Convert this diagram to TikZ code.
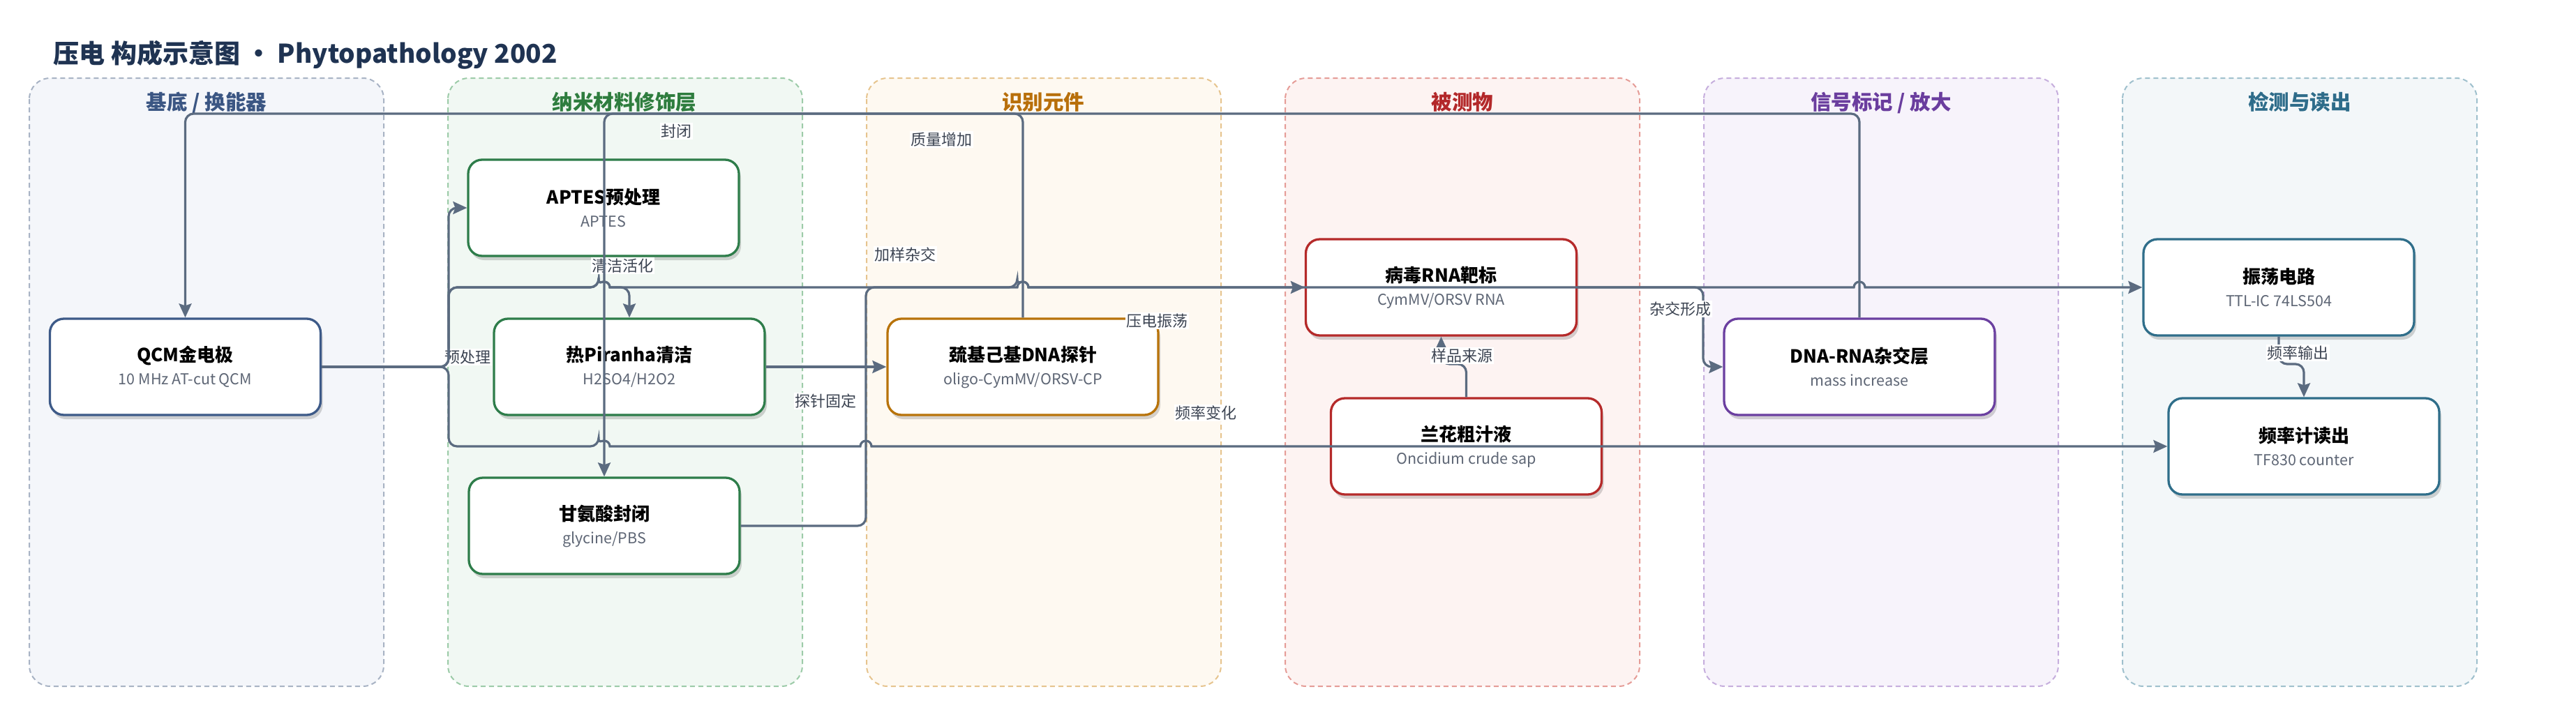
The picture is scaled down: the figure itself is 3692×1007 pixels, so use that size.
\documentclass[tikz,border=0pt]{standalone}
\usepackage{fontspec}
\setmainfont{Noto Sans CJK SC}
\usetikzlibrary{arrows.meta,shadows}

\definecolor{edgec}{HTML}{5B6B80}
\definecolor{titlec}{HTML}{1F3352}
\definecolor{subc}{HTML}{5E6675}
\definecolor{labc}{HTML}{3C4452}
\definecolor{laneAfill}{HTML}{F4F6FA}\definecolor{laneAline}{HTML}{A8B3C4}\definecolor{laneAtext}{HTML}{3B5683}
\definecolor{laneBfill}{HTML}{F1F8F3}\definecolor{laneBline}{HTML}{9CCBA8}\definecolor{laneBtext}{HTML}{2E7D3E}
\definecolor{laneCfill}{HTML}{FEF9F1}\definecolor{laneCline}{HTML}{E6C48E}\definecolor{laneCtext}{HTML}{B86F0A}
\definecolor{laneDfill}{HTML}{FDF3F2}\definecolor{laneDline}{HTML}{E59C97}\definecolor{laneDtext}{HTML}{B3282A}
\definecolor{laneEfill}{HTML}{F7F3FB}\definecolor{laneEline}{HTML}{C6AEDD}\definecolor{laneEtext}{HTML}{6A3D9E}
\definecolor{laneFfill}{HTML}{F3F7F9}\definecolor{laneFline}{HTML}{9FC0CD}\definecolor{laneFtext}{HTML}{2E6C8A}
\definecolor{qcmc}{HTML}{3D5A88}
\definecolor{nanoc}{HTML}{2E7D4A}
\definecolor{probec}{HTML}{B8730A}
\definecolor{targetc}{HTML}{B52A2A}
\definecolor{hybc}{HTML}{6B3FA0}
\definecolor{readc}{HTML}{2F6E8A}

\tikzset{
  lane/.style={draw=#1, line width=2pt, dash pattern=on 7pt off 5pt, rounded corners=30pt},
  lanetitle/.style={text=#1, font=\bfseries\fontsize{29.5}{29.5}\selectfont, anchor=base},
  box/.style={draw=#1, line width=3.3pt, fill=white, rounded corners=20pt,
    minimum width=388pt, minimum height=138pt, align=center,
    font=\fontsize{21.5}{33}\selectfont,
    drop shadow={shadow xshift=3pt, shadow yshift=-6pt, opacity=.16, fill=black}},
  edge/.style={draw=edgec, line width=3.2pt, rounded corners=12pt},
  elabel/.style={fill=white, text=labc, font=\fontsize{22}{22}\selectfont, inner sep=1.5pt},
  >={Stealth[length=20pt,width=18pt,inset=3pt]}
}
\newcommand{\boxtext}[2]{{\bfseries\fontsize{26}{33}\selectfont #1}\\{\color{subc}#2}}

\begin{document}
\begin{tikzpicture}[x=1pt,y=-1pt]
    \useasboundingbox (0,0) rectangle (3692,1007);
    \node [anchor=base west, text=titlec, font=\bfseries\fontsize{37}{37}\selectfont] (title) at (73,90) {压电 构成示意图 · Phytopathology 2002};

    % lanes
    \draw [lane=laneAline, fill=laneAfill] (42,112) rectangle (550,984);
    \draw [lane=laneBline, fill=laneBfill] (642,112) rectangle (1150,984);
    \draw [lane=laneCline, fill=laneCfill] (1242,112) rectangle (1750,984);
    \draw [lane=laneDline, fill=laneDfill] (1842,112) rectangle (2350,984);
    \draw [lane=laneEline, fill=laneEfill] (2442,112) rectangle (2950,984);
    \draw [lane=laneFline, fill=laneFfill] (3042,112) rectangle (3550,984);
    \node [lanetitle=laneAtext] (laneA) at (296,157) {基底 / 换能器};
    \node [lanetitle=laneBtext] (laneB) at (895,157) {纳米材料修饰层};
    \node [lanetitle=laneCtext] (laneC) at (1495,157) {识别元件};
    \node [lanetitle=laneDtext] (laneD) at (2096,157) {被测物};
    \node [lanetitle=laneEtext] (laneE) at (2696,157) {信号标记 / 放大};
    \node [lanetitle=laneFtext] (laneF) at (3296,157) {检测与读出};

    % boxes
    \node [box=qcmc] (qcm) at (265.5,526) {\boxtext{QCM金电极}{10 MHz AT-cut QCM}};
    \node [box=nanoc] (aptes) at (865,298) {\boxtext{APTES预处理}{APTES}};
    \node [box=nanoc] (piranha) at (902,526) {\boxtext{热Piranha清洁}{H2SO4/H2O2}};
    \node [box=nanoc] (glycine) at (866,754) {\boxtext{甘氨酸封闭}{glycine/PBS}};
    \node [box=probec] (probe) at (1466,526) {\boxtext{巯基己基DNA探针}{oligo-CymMV/ORSV-CP}};
    \node [box=targetc] (rna) at (2065.5,412) {\boxtext{病毒RNA靶标}{CymMV/ORSV RNA}};
    \node [box=targetc] (sap) at (2101.5,640) {\boxtext{兰花粗汁液}{Oncidium crude sap}};
    \node [box=hybc] (hybrid) at (2665,526) {\boxtext{DNA-RNA杂交层}{mass increase}};
    \node [box=readc] (osc) at (3266,412) {\boxtext{振荡电路}{TTL-IC 74LS504}};
    \node [box=readc] (counter) at (3302,640) {\boxtext{频率计读出}{TF830 counter}};

    \coordinate (jn) at (643,526);
    \coordinate (topy) at (0,163);

    % connectors
    \draw [edge,->] (qcm.east) -- (jn) |- (aptes.west);
    \node [elabel] (l1) at (670,512) {预处理};
    \draw [edge,->] (qcm.east) -- (jn) -- (643,640) -- (858,640) [sharp corners] arc[start angle=180,end angle=360,radius=8] -- (1233,640) arc[start angle=180,end angle=360,radius=8] -- (counter.west);
    \node [elabel] (l2) at (1728,592) {频率变化};
    \draw [edge,->] (qcm.east) -- (jn) -- (643,412) -- (858,412) [sharp corners] arc[start angle=180,end angle=360,radius=8] -- (1458,412) arc[start angle=180,end angle=360,radius=8] -- (2657,412) arc[start angle=180,end angle=360,radius=8] -- (osc.west);
    \node [elabel] (l3) at (1658,460) {压电振荡};
    \draw [edge,->] (qcm.east) -- (jn) -- (643,412) -- (858,412) [sharp corners] arc[start angle=180,end angle=360,radius=8] -- (882,412) [rounded corners=12pt] -| (piranha.north);
    \node [elabel] (l4) at (892,381) {清洁活化};
    \draw [edge,->] (piranha.east) -- (probe.west);
    \node [elabel] (l5) at (1183,575) {探针固定};
    \draw [edge,->] (glycine.east) -- (1241,754) -- (1241,412) -- (1458,412) [sharp corners] arc[start angle=180,end angle=360,radius=8] -- (rna.west);
    \node [elabel] (l6) at (1297,365) {加样杂交};
    \draw [edge,->] (sap.north) -- (2101.5,522) -- (2065.5,522) -- (rna.south);
    \node [elabel] (l7) at (2095,510) {样品来源};
    \draw [edge,->] (osc.south) -- (3266,522) -- (3302,522) -- (counter.north);
    \node [elabel] (l8) at (3293,506) {频率输出};
    \draw [edge,->] (rna.east) -- (2441,412) |- (hybrid.west);
    \node [elabel] (l9) at (2408,443) {杂交形成};
    \draw [edge,->] (hybrid.north) -- (hybrid.north |- topy) -| (qcm.north);
    \node [elabel] (l10) at (1349,200) {质量增加};
    \node [elabel] (l11) at (969,188) {封闭};
    \draw [edge,->] (probe.north) -- (probe.north |- topy) -| (glycine.north);
\end{tikzpicture}
\end{document}
